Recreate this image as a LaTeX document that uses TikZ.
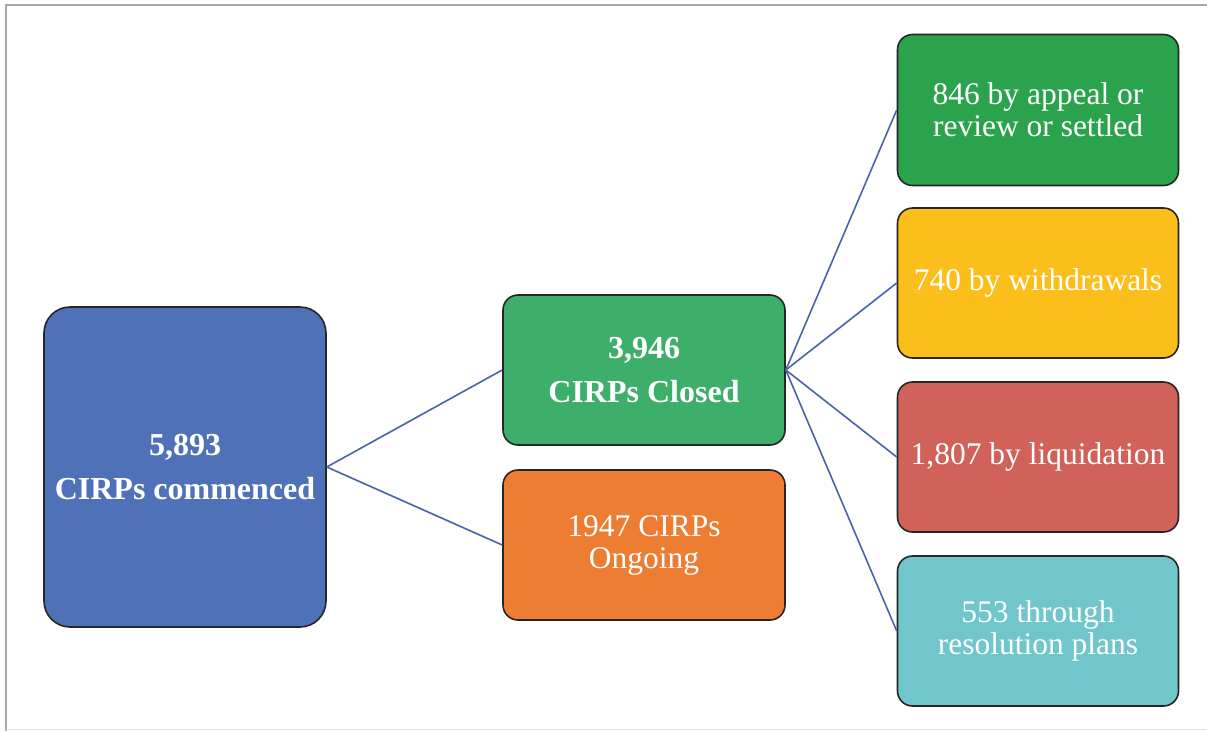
\documentclass[tikz,border=0pt]{standalone}
\usepackage{fontspec}
\setmainfont{Liberation Serif}
\definecolor{cblue}{HTML}{4F71B8}
\definecolor{cclosed}{HTML}{3EAE6B}
\definecolor{corange}{HTML}{ED7D33}
\definecolor{cgreen}{HTML}{2BA34D}
\definecolor{cyellow}{HTML}{FBBE1A}
\definecolor{cred}{HTML}{D0625A}
\definecolor{cteal}{HTML}{70C6CB}
\definecolor{cline}{HTML}{4A63A8}
\definecolor{cframe}{HTML}{A8A8A8}
\begin{document}
\begin{tikzpicture}[x=1pt,y=-1pt,
  box/.style={draw=black!85,line width=1.6pt,rounded corners=15pt,text=white,align=center,
    minimum width=281pt,minimum height=150pt,inner sep=0pt,font=\fontsize{31.5}{32}\selectfont},
  boldtext/.style={font=\fontsize{32}{44}\selectfont\bfseries},
  bigbox/.style={box,boldtext,rounded corners=26pt,minimum width=282pt,minimum height=320pt},
  link/.style={draw=cline,line width=1.6pt}]
\useasboundingbox (0,0) rectangle (1207,731);
\draw[cframe,line width=1.5pt] (6,731) -- (6,5) -- (1207,5);
\draw[black!10,line width=1pt] (6,729) -- (1207,729);
\node[bigbox,fill=cblue] (start) at (185,467) {5,893\\CIRPs commenced};
\node[box,boldtext,fill=cclosed,minimum width=282pt] (closed) at (644,370) {3,946\\CIRPs Closed};
\node[box,fill=corange,minimum width=282pt] (ongoing) at (644,545) {1947 CIRPs\\Ongoing};
\node[box,fill=cgreen,minimum height=151pt] (appeal) at (1038,110) {846 by appeal or\\review or settled};
\node[box,fill=cyellow] (withdraw) at (1038,283) {740 by withdrawals};
\node[box,fill=cred] (liq) at (1038,457) {1,807 by liquidation};
\node[box,fill=cteal] (res) at (1038,631) {553 through\\resolution plans};
\draw[link] (start.east) -- (closed.west);
\draw[link] (start.east) -- (ongoing.west);
\foreach \t in {appeal,withdraw,liq,res}{
  \draw[link] (closed.east) -- (\t.west);
}
\end{tikzpicture}
\end{document}
